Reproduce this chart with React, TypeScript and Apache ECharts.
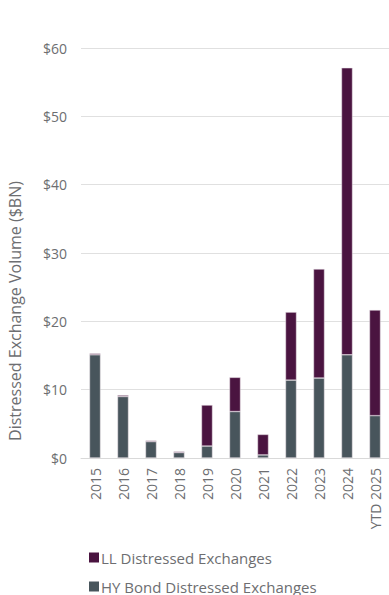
import React, { useEffect, useRef } from "react";
import * as echarts from "echarts";

const categories = ["2015", "2016", "2017", "2018", "2019", "2020", "2021", "2022", "2023", "2024", "YTD 2025"];
const hyBond = [15.1, 9.0, 2.4, 0.8, 1.75, 6.8, 0.45, 11.4, 11.7, 15.1, 6.2];
const llLoans = [0.2, 0.2, 0.15, 0.15, 6.0, 5.0, 3.0, 9.95, 15.95, 42.0, 15.45];
const yTicks = [0, 10, 20, 30, 40, 50, 60];

const FONT = "Open Sans";
const TEXT = "#6d6e71";
const LL_COLOR = "#4a1440";
const HY_COLOR = "#48555c";

export default function App() {
  const ref = useRef<HTMLDivElement>(null);
  useEffect(() => {
    if (!ref.current) return;
    const chart = echarts.init(ref.current, undefined, { renderer: "svg" });
    const legendBase = {
      orient: "horizontal",
      left: 89,
      itemWidth: 10,
      itemHeight: 10,
      icon: "rect",
      padding: 0,
      itemStyle: { borderWidth: 0 },
      textStyle: { color: TEXT, fontSize: 15, fontFamily: FONT, padding: [0, 0, 0, -3] },
    };
    chart.setOption({
      animation: false,
      textStyle: { fontFamily: FONT },
      grid: { left: 81, top: 48, width: 308, height: 410, containLabel: false },
      legend: [
        { ...legendBase, top: 550, data: ["LL Distressed Exchanges"] },
        { ...legendBase, top: 579, data: ["HY Bond Distressed Exchanges"] },
      ],
      graphic: [
        {
          type: "text",
          x: 15,
          y: 311,
          rotation: Math.PI / 2,
          style: {
            text: "Distressed Exchange Volume ($BN)",
            fill: TEXT,
            fontSize: 16,
            fontFamily: FONT,
            align: "center",
            verticalAlign: "middle",
          },
        },
      ],
      xAxis: {
        type: "category",
        data: categories,
        axisLine: { lineStyle: { color: "#d9d9d9" } },
        axisTick: { show: false },
        axisLabel: { rotate: 90, color: TEXT, fontSize: 14, fontFamily: FONT, margin: 10, interval: 0 },
      },
      yAxis: {
        type: "value",
        min: yTicks[0],
        max: yTicks[yTicks.length - 1],
        interval: 10,
        axisLine: { show: false },
        axisTick: { show: false },
        splitLine: { lineStyle: { color: "#e0e0e0", width: 1 } },
        axisLabel: { color: TEXT, fontSize: 14, fontFamily: FONT, margin: 14, formatter: (v: number) => "$" + v },
      },
      series: [
        {
          name: "HY Bond Distressed Exchanges",
          type: "bar",
          stack: "total",
          data: hyBond,
          barWidth: 11,
          itemStyle: { color: HY_COLOR, borderColor: "#e8e0e6", borderWidth: 0.5 },
        },
        {
          name: "LL Distressed Exchanges",
          type: "bar",
          stack: "total",
          data: llLoans,
          barWidth: 11,
          itemStyle: { color: LL_COLOR, borderColor: "#e8e0e6", borderWidth: 0.5 },
        },
      ],
    });
    return () => chart.dispose();
  }, []);
  return <div ref={ref} style={{ width: 389, height: 595, position: "absolute", left: 0, top: 0 }} />;
}
